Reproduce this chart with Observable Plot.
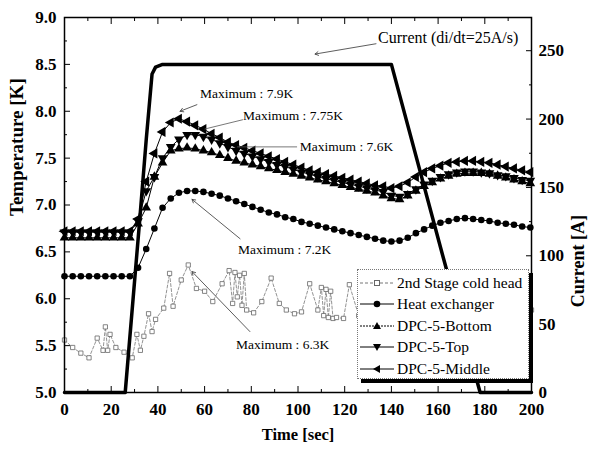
<!DOCTYPE html>
<html><head><meta charset="utf-8">
<script src="https://cdn.jsdelivr.net/npm/d3@7"></script>
<script src="https://cdn.jsdelivr.net/npm/@observablehq/plot@0.6"></script>
<style>
body{margin:0;background:#fff;}
#wrap{position:relative;width:590px;height:454px;font-family:"Liberation Serif","Times New Roman",serif;}
#legend{position:absolute;left:357px;top:269px;width:172px;height:110px;background:#fff;border:1px dotted #777;box-shadow:4px 4px 0 #000;box-sizing:border-box;padding-top:2px;overflow:hidden;}
.lrow{height:21.5px;display:flex;align-items:center;font-size:15.5px;white-space:nowrap;}
.lrow svg{flex:none;margin-left:1px;margin-right:2px;}
</style>
</head><body>
<div id="wrap"><div id="legend"></div></div>
<script>
// ---- data ----
const time = [0,3.5,7,10.5,14,17.5,21,24.5,28,31.5,35,38.5,42,45.5,49,52.5,56,59.5,63,66.5,70,73.5,77,80.5,84,87.5,91,94.5,98,101.5,105,108.5,112,115.5,119,122.5,126,129.5,133,136.5,140,143.5,147,150.5,154,157.5,161,164.5,168,171.5,175,178.5,182,185.5,189,192.5,196,199.5];
const heatExchanger = [6.24,6.24,6.24,6.24,6.24,6.24,6.24,6.24,6.24,6.33,6.53,6.75,6.97,7.07,7.13,7.15,7.15,7.14,7.12,7.10,7.07,7.04,7.01,6.98,6.95,6.92,6.90,6.87,6.85,6.82,6.80,6.78,6.76,6.74,6.72,6.70,6.68,6.66,6.64,6.62,6.61,6.62,6.65,6.70,6.74,6.78,6.81,6.83,6.85,6.86,6.85,6.84,6.83,6.81,6.80,6.79,6.77,6.76];
const dpcBottom = [6.65,6.65,6.65,6.65,6.65,6.65,6.65,6.65,6.65,6.80,6.97,7.30,7.45,7.58,7.60,7.61,7.60,7.58,7.56,7.53,7.50,7.47,7.45,7.43,7.41,7.39,7.37,7.35,7.33,7.31,7.29,7.27,7.25,7.23,7.21,7.19,7.17,7.15,7.13,7.10,7.07,7.06,7.10,7.15,7.20,7.24,7.28,7.31,7.33,7.34,7.34,7.34,7.33,7.31,7.29,7.27,7.25,7.23];
const dpcTop = [6.71,6.71,6.71,6.71,6.71,6.71,6.71,6.71,6.71,6.83,7.15,7.30,7.50,7.62,7.70,7.75,7.75,7.73,7.70,7.66,7.62,7.58,7.55,7.52,7.49,7.46,7.43,7.41,7.38,7.35,7.33,7.30,7.28,7.26,7.24,7.22,7.20,7.18,7.16,7.14,7.10,7.09,7.12,7.17,7.22,7.26,7.30,7.33,7.35,7.36,7.36,7.35,7.34,7.32,7.31,7.29,7.27,7.26];
const dpcMiddle = [6.72,6.72,6.72,6.72,6.72,6.72,6.72,6.72,6.72,6.85,7.25,7.55,7.78,7.88,7.92,7.89,7.85,7.81,7.76,7.72,7.67,7.64,7.61,7.58,7.55,7.52,7.49,7.46,7.43,7.40,7.37,7.35,7.33,7.31,7.29,7.27,7.25,7.23,7.21,7.20,7.18,7.20,7.24,7.30,7.35,7.39,7.42,7.45,7.46,7.47,7.47,7.46,7.45,7.43,7.41,7.39,7.37,7.35];
const coldTime = [0,3.5,7,10.5,14,16.5,17.5,18.5,19.5,22,25.5,29,31,32.5,34,36,37.5,39,42.5,45,46.5,50,53,56.5,60,63.5,67.5,70.5,72,73,74,75,76,77,78,81,84.5,88.5,92,95,98.5,101.5,105,108.5,110,111,112,113,114,115,116.5,119.5,122,126,130,135,140,146,152,158,164,170,176,182,188,194,200];
const coldHead = [5.56,5.48,5.42,5.37,5.58,5.45,5.70,5.45,5.62,5.48,5.43,5.37,5.62,5.45,5.60,5.84,5.65,5.78,5.90,6.27,5.92,6.20,6.36,6.11,6.08,5.97,6.16,6.30,5.95,6.28,6.02,6.25,5.93,6.27,5.88,5.85,5.97,6.22,5.95,5.88,5.84,5.86,6.16,5.88,6.12,5.82,6.10,5.80,6.08,5.79,5.80,5.79,6.15,5.82,5.85,5.88,5.84,5.90,5.95,5.92,5.98,6.00,5.96,5.94,5.92,5.90,5.88];
const currentTime = [0,26,32.3,35,37.5,39,42,140,162,178,200];
const currentAmps = [0,0,128,185,233,238,240,240,100,0,0];
const seriesNames = ["2nd Stage cold head","Heat exchanger","DPC-5-Bottom","DPC-5-Top","DPC-5-Middle"];
const xTicks = [0,20,40,60,80,100,120,140,160,180,200];
const yTicks = [5,5.5,6,6.5,7,7.5,8,8.5,9];
const ampTicks = [0,50,100,150,200,250];
const annotText = ["Maximum : 7.9K","Maximum : 7.75K","Maximum : 7.6K","Maximum : 7.2K","Maximum : 6.3K"];
const annotX = [58,76.4,100.8,74.3,73.4];
const annotY = [8.19,7.95,7.62,6.52,5.51];
const arrowFrom = [[56.7,8.07],[75.2,6.64],[79.4,5.65],[133.4,8.72]];
const arrowTo = [[49.5,8.0],[54.6,7.06],[54.6,6.29],[107.3,8.61]];
const lineFrom = [[76.4,7.91],[99.6,7.62]];
const lineTo = [[60,7.81],[73.9,7.62]];
const currentLabel = "Current (di/dt=25A/s)";
const currentLabelPos = [134.3,8.78];

// ---- build ----
const k = 3.5/240; // amps -> kelvin axis units
const toK = a => 5 + a*k;
const mk = vals => time.map((t,i)=>({t, v: vals[i]}));
const hxData = mk(heatExchanger), botData = mk(dpcBottom), topData = mk(dpcTop), midData = mk(dpcMiddle);
const coldData = coldTime.map((t,i)=>({t, v: coldHead[i]}));
const curData = currentTime.map((t,i)=>({t, v: toK(currentAmps[i])}));
const annots = annotText.map((s,i)=>({s, x: annotX[i], y: annotY[i]}));
const arrows = arrowFrom.map((f,i)=>({x1:f[0],y1:f[1],x2:arrowTo[i][0],y2:arrowTo[i][1]}));
const links = lineFrom.map((f,i)=>({x1:f[0],y1:f[1],x2:lineTo[i][0],y2:lineTo[i][1]}));
const minor = (arr, step) => arr.slice(0,-1).map(v=>v+step/2);

const axStyle = {fontWeight:"bold", fontSize:17, label:null};
const chart = Plot.plot({
  width:590, height:454,
  marginLeft:64, marginRight:59, marginTop:17, marginBottom:62,
  x:{domain:[0,200]},
  y:{domain:[5,9]},
  style:{fontFamily:"'Liberation Serif','Times New Roman',serif", fontSize:"16px", color:"#000", background:"#fff"},
  marks:[
    Plot.axisX({anchor:"bottom", ticks:xTicks, tickSize:-6, tickPadding:16, tickFormat:d=>d, ...axStyle}),
    Plot.axisX({anchor:"bottom", ticks:minor(xTicks,20), tickSize:-3, tickFormat:()=>"", label:null}),
    Plot.axisX({anchor:"top", ticks:xTicks, tickSize:-6, tickFormat:()=>"", label:null}),
    Plot.axisX({anchor:"top", ticks:minor(xTicks,20), tickSize:-3, tickFormat:()=>"", label:null}),
    Plot.axisY({anchor:"left", ticks:yTicks, tickSize:-6, tickPadding:14, tickFormat:d=>d.toFixed(1), ...axStyle}),
    Plot.axisY({anchor:"left", ticks:minor(yTicks,0.5), tickSize:-3, tickFormat:()=>"", label:null}),
    Plot.axisY({anchor:"right", ticks:ampTicks.map(toK), tickSize:-6, tickPadding:13, tickFormat:v=>String(Math.round((v-5)/k)), ...axStyle}),
    Plot.axisY({anchor:"right", ticks:minor(ampTicks,50).map(toK), tickSize:-3, tickFormat:()=>"", label:null}),
    Plot.text(["Temperature [K]"], {frameAnchor:"left", text:d=>d, rotate:-90, dx:-48, dy:11, fontSize:19, fontWeight:"bold"}),
    Plot.text(["Current [A]"], {frameAnchor:"right", text:d=>d, rotate:-90, dx:47, dy:10, fontSize:18, fontWeight:"bold"}),
    Plot.text(["Time [sec]"], {frameAnchor:"bottom", text:d=>d, dy:47, fontSize:16.5, fontWeight:"bold"}),
    // cold head
    Plot.line(coldData, {x:"t", y:"v", stroke:"#777", strokeWidth:0.8, strokeDasharray:"3,2"}),
    Plot.dot(coldData, {x:"t", y:"v", symbol:"square", r:2.4, stroke:"#666", fill:"#fff", strokeWidth:0.8}),
    // heat exchanger and DPC sensors
    Plot.line(hxData, {x:"t", y:"v", stroke:"#000", strokeWidth:1}),
    Plot.dot(hxData, {x:"t", y:"v", symbol:"circle", r:3.3, fill:"#000"}),
    Plot.line(botData, {x:"t", y:"v", stroke:"#000", strokeWidth:1}),
    Plot.dot(botData, {x:"t", y:"v", symbol:"triangle", r:3.6, fill:"#000"}),
    Plot.line(topData, {x:"t", y:"v", stroke:"#000", strokeWidth:1}),
    Plot.dot(topData, {x:"t", y:"v", symbol:"triangle", r:3.6, fill:"#000", rotate:180}),
    Plot.line(midData, {x:"t", y:"v", stroke:"#000", strokeWidth:1}),
    Plot.dot(midData, {x:"t", y:"v", symbol:"triangle", r:3.8, fill:"#000", rotate:-90}),
    // current
    Plot.line(curData, {x:"t", y:"v", stroke:"#000", strokeWidth:3.5, strokeLinejoin:"round"}),
    // annotations
    Plot.arrow(arrows, {x1:"x1", y1:"y1", x2:"x2", y2:"y2", stroke:"#333", strokeWidth:0.8, headLength:7}),
    Plot.link(links, {x1:"x1", y1:"y1", x2:"x2", y2:"y2", stroke:"#555", strokeWidth:0.8}),
    Plot.text(annots, {x:"x", y:"y", text:"s", textAnchor:"start", fontSize:13.5}),
    Plot.text([currentLabel], {x:()=>currentLabelPos[0], y:()=>currentLabelPos[1], text:d=>d, textAnchor:"start", fontSize:16}),
    Plot.frame({stroke:"#000", strokeWidth:1.5})
  ]
});
document.getElementById("wrap").prepend(chart);

// legend
const sampleSym = [
  `<line x1="1" y1="10" x2="35" y2="10" stroke="#777" stroke-dasharray="3,2"/><rect x="15.5" y="7.5" width="5" height="5" fill="#fff" stroke="#666"/>`,
  `<line x1="1" y1="10" x2="35" y2="10" stroke="#000"/><circle cx="18" cy="10" r="3.3" fill="#000"/>`,
  `<line x1="1" y1="10" x2="35" y2="10" stroke="#000" stroke-dasharray="2,1"/><path d="M18,6 L22,13 L14,13Z" fill="#000"/>`,
  `<line x1="1" y1="10" x2="35" y2="10" stroke="#000"/><path d="M18,14 L22,7 L14,7Z" fill="#000"/>`,
  `<line x1="1" y1="10" x2="35" y2="10" stroke="#000"/><path d="M14,10 L21,6 L21,14Z" fill="#000"/>`
];
document.getElementById("legend").innerHTML = seriesNames.map((n,i)=>
  `<div class="lrow"><svg width="36" height="20">${sampleSym[i]}</svg><span>${n}</span></div>`).join("");
</script>
</body></html>
